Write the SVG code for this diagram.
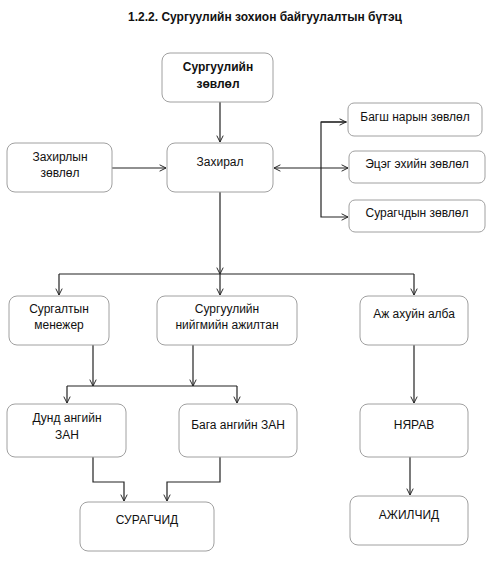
<svg xmlns="http://www.w3.org/2000/svg" width="486" height="578" viewBox="0 0 486 578">
<defs>
<marker id="arr" viewBox="0 0 10 10" refX="9" refY="5" markerWidth="8" markerHeight="8" orient="auto-start-reverse" markerUnits="userSpaceOnUse">
<path d="M1,1 L9,5 L1,9" fill="none" stroke="#222" stroke-width="1.2"/>
</marker>
</defs>
<style>
.box{fill:#fff;stroke:#a0a0a0;stroke-width:1}
.t{font-family:"Liberation Sans",Arial,sans-serif;font-size:12px;fill:#111;text-anchor:middle}
.b{font-weight:bold}
.c{fill:none;stroke:#222;stroke-width:1.2}
</style>
<rect width="486" height="578" fill="#fff"/>
<text class="t b" x="265" y="21">1.2.2. Сургуулийн зохион байгуулалтын бүтэц</text>
<g id="connectors">
<path class="c" d="M220,102 V142" marker-end="url(#arr)"/>
<path class="c" d="M112,168 H166" marker-end="url(#arr)"/>
<path class="c" d="M274,168 H348" marker-start="url(#arr)" marker-end="url(#arr)"/>
<path class="c" d="M347,122 H321 V217 H348" marker-end="url(#arr)"/>
<path class="c" d="M321,122 H346" marker-end="url(#arr)"/>
<path class="c" d="M220,192 V274" marker-end="url(#arr)"/>
<path class="c" d="M59,274 H414"/>
<path class="c" d="M59,274 V295" marker-end="url(#arr)"/>
<path class="c" d="M220,274 V295" marker-end="url(#arr)"/>
<path class="c" d="M414,274 V295" marker-end="url(#arr)"/>
<path class="c" d="M93,345 V386" marker-end="url(#arr)"/>
<path class="c" d="M193,345 V386" marker-end="url(#arr)"/>
<path class="c" d="M67,386 H237"/>
<path class="c" d="M67,386 V403" marker-end="url(#arr)"/>
<path class="c" d="M237,386 V403" marker-end="url(#arr)"/>
<path class="c" d="M414,345 V403" marker-end="url(#arr)"/>
<path class="c" d="M93,457 V482 H124 V501" marker-end="url(#arr)"/>
<path class="c" d="M220,457 V482 H167 V501" marker-end="url(#arr)"/>
<path class="c" d="M410,457 V495" marker-end="url(#arr)"/>
</g>
<g id="n_school_council"><rect class="box" x="162" y="53" width="111" height="49" rx="8"/><text class="t b" x="218" y="71">Сургуулийн</text><text class="t b" x="218" y="88">зөвлөл</text></g>
<g id="n_director_council"><rect class="box" x="7" y="143" width="105" height="49" rx="8"/><text class="t" x="60" y="161">Захирлын</text><text class="t" x="60" y="177">зөвлөл</text></g>
<g id="n_director"><rect class="box" x="167" y="143" width="106" height="49" rx="8"/><text class="t" x="220" y="166">Захирал</text></g>
<g id="n_teachers"><rect class="box" x="348" y="103" width="134" height="33" rx="6"/><text class="t" x="415" y="121">Багш нарын зөвлөл</text></g>
<g id="n_parents"><rect class="box" x="349" y="151" width="136" height="32" rx="6"/><text class="t" x="417" y="168">Эцэг эхийн зөвлөл</text></g>
<g id="n_students_council"><rect class="box" x="349" y="200" width="136" height="32" rx="6"/><text class="t" x="417" y="217">Сурагчдын зөвлөл</text></g>
<g id="n_manager"><rect class="box" x="9" y="296" width="100" height="49" rx="8"/><text class="t" x="59" y="313">Сургалтын</text><text class="t" x="59" y="329">менежер</text></g>
<g id="n_social"><rect class="box" x="157" y="296" width="140" height="49" rx="8"/><text class="t" x="227" y="313">Сургуулийн</text><text class="t" x="227" y="329">нийгмийн ажилтан</text></g>
<g id="n_admin"><rect class="box" x="360" y="296" width="108" height="49" rx="8"/><text class="t" x="414" y="318">Аж ахуйн алба</text></g>
<g id="n_middle"><rect class="box" x="7" y="404" width="119" height="53" rx="8"/><text class="t" x="67" y="422">Дунд ангийн</text><text class="t" x="67" y="439">ЗАН</text></g>
<g id="n_primary"><rect class="box" x="179" y="404" width="118" height="53" rx="8"/><text class="t" x="238" y="429">Бага ангийн ЗАН</text></g>
<g id="n_storekeeper"><rect class="box" x="360" y="404" width="108" height="53" rx="8"/><text class="t" x="414" y="429">НЯРАВ</text></g>
<g id="n_students"><rect class="box" x="80" y="502" width="134" height="49" rx="8"/><text class="t" x="147" y="524">СУРАГЧИД</text></g>
<g id="n_workers"><rect class="box" x="350" y="496" width="118" height="49" rx="8"/><text class="t" x="409" y="519">АЖИЛЧИД</text></g>
</svg>
